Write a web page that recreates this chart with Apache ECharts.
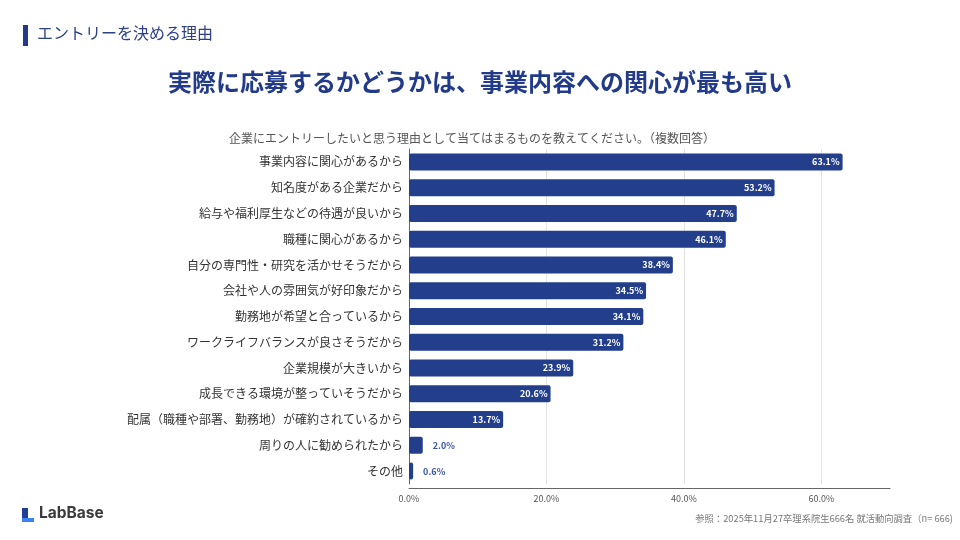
<!DOCTYPE html>
<html><head><meta charset="utf-8">
<script src="https://cdn.jsdelivr.net/npm/echarts@6/dist/echarts.min.js"></script>
<style>html,body{margin:0;padding:0;background:#fff}#c{width:960px;height:540px}</style>
</head><body><div id="c"></div>
<script>
const categories = ['事業内容に関心があるから','知名度がある企業だから','給与や福利厚生などの待遇が良いから','職種に関心があるから','自分の専門性・研究を活かせそうだから','会社や人の雰囲気が好印象だから','勤務地が希望と合っているから','ワークライフバランスが良さそうだから','企業規模が大きいから','成長できる環境が整っていそうだから','配属（職種や部署、勤務地）が確約されているから','周りの人に勧められたから','その他'];
const values = [63.1,53.2,47.7,46.1,38.4,34.5,34.1,31.2,23.9,20.6,13.7,2.0,0.6];
const xTicks = [0,20,40,60];
const FONT = '"Noto Sans CJK JP","Noto Sans",sans-serif';
const NAVY = '#233e8b';
const chart = echarts.init(document.getElementById('c'));
chart.setOption({
  animation:false,
  textStyle:{fontFamily:FONT},
  title:[
    {text:'実際に応募するかどうかは、事業内容への関心が最も高い',left:'center',top:65,textStyle:{fontFamily:FONT,fontSize:24,fontWeight:'bold',color:'#223a8a'}},
    {text:'企業にエントリーしたいと思う理由として当てはまるものを教えてください。（複数回答）',left:467,textAlign:'center',top:127,textStyle:{fontFamily:FONT,fontSize:12,fontWeight:'normal',color:'#555'}}
  ],
  grid:{left:409,right:70,top:149,bottom:56},
  xAxis:{type:'value',min:0,max:70,interval:20,offset:4,
    axisLine:{show:true,lineStyle:{color:'#666'}},axisTick:{show:false},
    axisLabel:{formatter:v=>xTicks.includes(v)?v.toFixed(1)+'%':'',showMaxLabel:false,fontSize:9,color:'#555',margin:6,fontFamily:FONT},
    splitLine:{show:true,showMaxLine:false,lineStyle:{color:'#e3e3e3'}}},
  yAxis:{type:'category',data:categories,inverse:true,
    axisLine:{show:true,lineStyle:{color:'#666'}},axisTick:{show:false},
    axisLabel:{fontSize:12,color:'#333',margin:6,fontFamily:FONT}},
  series:[{type:'bar',barWidth:17,
    data:values.map(v=>({value:v,label:v<5?{position:'right',color:'#3a56a8',distance:10}:{}})),
    itemStyle:{color:NAVY,borderRadius:2},
    label:{show:true,position:'insideRight',color:'#fff',fontSize:9,fontWeight:'bold',distance:3,fontFamily:FONT,formatter:p=>p.value.toFixed(1)+'%'}
  }],
  graphic:[
    {type:'rect',shape:{x:23,y:25,width:5,height:21},style:{fill:'#223a8a'}},
    {type:'text',left:37,top:25,style:{text:'エントリーを決める理由',fontSize:16,fill:'#2d4089',fontFamily:FONT}},
    {type:'rect',shape:{x:22,y:508,width:6,height:14},style:{fill:'#1f3d99'}},
    {type:'rect',shape:{x:22,y:518,width:12,height:4},style:{fill:'#3b82f6'}},
    {type:'text',left:39,top:505,style:{text:'LabBase',fontSize:15.5,fontWeight:'bold',fill:'#3a3a3a',fontFamily:'Inter, "Noto Sans", sans-serif'}},
    {type:'text',right:7,top:514,style:{text:'参照：2025年11月27卒理系院生666名 就活動向調査（n= 666)',fontSize:9.3,fill:'#777',fontFamily:FONT}}
  ]
});
</script></body></html>
